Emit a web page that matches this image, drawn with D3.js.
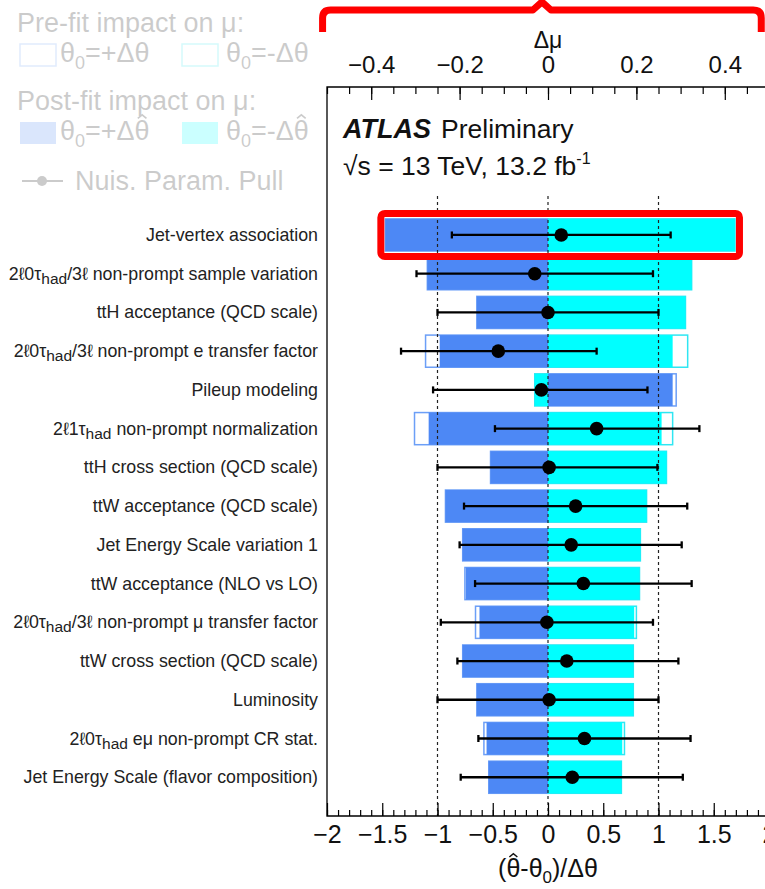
<!DOCTYPE html>
<html>
<head>
<meta charset="utf-8">
<script src="https://cdn.jsdelivr.net/npm/d3@7"></script>
<style>
  body { margin: 0; background: #fff; }
  svg text { font-family: "Liberation Sans", Arial, Helvetica, sans-serif; }
</style>
</head>
<body>
<script>
// nuisance parameters, ranked top to bottom ("_{...}" = subscript)
var labels = [
  "Jet-vertex association",
  "2ℓ0τ_{had}/3ℓ non-prompt sample variation",
  "ttH acceptance (QCD scale)",
  "2ℓ0τ_{had}/3ℓ non-prompt e transfer factor",
  "Pileup modeling",
  "2ℓ1τ_{had} non-prompt normalization",
  "ttH cross section (QCD scale)",
  "ttW acceptance (QCD scale)",
  "Jet Energy Scale variation 1",
  "ttW acceptance (NLO vs LO)",
  "2ℓ0τ_{had}/3ℓ non-prompt μ transfer factor",
  "ttW cross section (QCD scale)",
  "Luminosity",
  "2ℓ0τ_{had} eμ non-prompt CR stat.",
  "Jet Energy Scale (flavor composition)"
];

// impact on mu (delta mu), theta0 = +dtheta / -dtheta
var preUp    = [-0.368, -0.273, -0.161, -0.277, 0.290, -0.302, -0.130, -0.232, -0.193, -0.188, -0.164, -0.193, -0.161, -0.145, -0.134];
var preDown  = [ 0.423,  0.325,  0.311,  0.316, -0.030, 0.282,  0.268,  0.223,  0.209,  0.207,  0.200,  0.193,  0.193,  0.173,  0.166];
var postUp   = [-0.368, -0.273, -0.161, -0.245, 0.282, -0.270, -0.130, -0.232, -0.193, -0.186, -0.155, -0.193, -0.161, -0.139, -0.134];
var postDown = [ 0.423,  0.325,  0.311,  0.282, -0.030, 0.257,  0.268,  0.223,  0.209,  0.207,  0.195,  0.193,  0.193,  0.168,  0.166];

// pulls (theta_hat - theta0)/dtheta with error bar ends
var pull     = [ 0.12, -0.12,  0.00, -0.45, -0.06,  0.44,  0.01,  0.25,  0.21,  0.32, -0.01,  0.17,  0.01,  0.33,  0.22];
var pullLow  = [-0.87, -1.19, -1.00, -1.33, -1.04, -0.48, -1.00, -0.76, -0.80, -0.66, -0.97, -0.82, -1.00, -0.63, -0.79];
var pullHigh = [ 1.11,  0.95,  1.00,  0.44,  0.90,  1.37,  0.99,  1.26,  1.21,  1.30,  0.95,  1.18,  1.00,  1.29,  1.22];

var pullTicks = [-2, -1.5, -1, -0.5, 0, 0.5, 1, 1.5, 2];
var muTicks = [-0.4, -0.2, 0, 0.2, 0.4];

var blue = "#4d88f5", cyan = "#00ffff";
var blueLine = "#6c9ff7", cyanLine = "#2fe6f2";

var W = 765, H = 889;
var svg = d3.select("body").append("svg")
  .attr("width", W)
  .attr("height", H);

var frame = { left: 327, right: 769, top: 87, bottom: 816 };

var x = d3.scaleLinear().domain([-2, 2]).range([frame.left, frame.right]);
var xmu = d3.scaleLinear().domain([-0.5, 0.5]).range([frame.left, frame.right]);
var y = d3.scaleBand()
  .domain(d3.range(labels.length))
  .range([215.6, 796.6])
  .paddingInner(0.17)
  .paddingOuter(0.085);

// little circumflex over one character of a text element
function addHat(g, textSel, idx, size, color) {
  var el = textSel.node();
  var s = el.getStartPositionOfChar(idx), e = el.getEndPositionOfChar(idx);
  var cx = (s.x + e.x) / 2, top = s.y - size * 0.80, w = size * 0.16, h = size * 0.13;
  g.append("path")
    .attr("d", "M" + (cx - w) + "," + top + "L" + cx + "," + (top - h) + "L" + (cx + w) + "," + top)
    .attr("fill", "none")
    .attr("stroke", color)
    .attr("stroke-width", size * 0.06);
}

// ---------- faded legend ----------
var leg = svg.append("g").attr("opacity", 0.2).attr("fill", "#000");
var fs = 27;

leg.append("text").attr("x", 17).attr("y", 32).attr("font-size", fs).text("Pre-fit impact on μ:");
leg.append("text").attr("x", 17).attr("y", 110).attr("font-size", fs).text("Post-fit impact on μ:");

function thetaLabel(g, tx, ty, sign, hat) {
  var t = g.append("text").attr("x", tx).attr("y", ty).attr("font-size", fs);
  t.append("tspan").text("θ");
  t.append("tspan").attr("font-size", 18).attr("dy", 7).text("0");
  t.append("tspan").attr("dy", -7).text("=" + sign + "Δθ");
  if (hat) addHat(g, t, 5, fs, "#000");
}

leg.append("rect").attr("x", 20).attr("y", 44).attr("width", 36).attr("height", 22)
  .attr("fill", "none").attr("stroke", blueLine).attr("stroke-width", 1.5);
leg.append("rect").attr("x", 182).attr("y", 44).attr("width", 36).attr("height", 22)
  .attr("fill", "none").attr("stroke", cyanLine).attr("stroke-width", 1.5);
thetaLabel(leg, 60, 62, "+", false);
thetaLabel(leg, 226, 62, "-", false);

leg.append("rect").attr("x", 20).attr("y", 122).attr("width", 36).attr("height", 22).attr("fill", blue);
leg.append("rect").attr("x", 182).attr("y", 122).attr("width", 36).attr("height", 22).attr("fill", cyan);
thetaLabel(leg, 60, 140, "+", true);
thetaLabel(leg, 226, 140, "-", true);

leg.append("line").attr("x1", 22).attr("x2", 63).attr("y1", 181).attr("y2", 181)
  .attr("stroke", "#000").attr("stroke-width", 2);
leg.append("circle").attr("cx", 42).attr("cy", 181).attr("r", 5).attr("fill", "#000");
leg.append("text").attr("x", 75).attr("y", 190).attr("font-size", fs).text("Nuis. Param. Pull");

// ---------- rows ----------
var rows = svg.append("g");
var bh = y.bandwidth();

labels.forEach(function (lab, i) {
  var yt = y(i);
  // pre-fit outlines
  [[preUp[i], blueLine], [preDown[i], cyanLine]].forEach(function (p) {
    rows.append("rect")
      .attr("x", Math.min(xmu(0), xmu(p[0])))
      .attr("y", yt)
      .attr("width", Math.abs(xmu(p[0]) - xmu(0)))
      .attr("height", bh)
      .attr("fill", "#fff")
      .attr("stroke", p[1])
      .attr("stroke-width", 1.5);
  });
  // post-fit filled bars
  [[postUp[i], blue], [postDown[i], cyan]].forEach(function (p) {
    rows.append("rect")
      .attr("x", Math.min(xmu(0), xmu(p[0])))
      .attr("y", yt)
      .attr("width", Math.abs(xmu(p[0]) - xmu(0)))
      .attr("height", bh)
      .attr("fill", p[1]);
  });
});

// dashed reference lines
svg.append("g").selectAll("line")
  .data([-1, 0, 1])
  .enter().append("line")
  .attr("x1", function (d) { return x(d); })
  .attr("x2", function (d) { return x(d); })
  .attr("y1", 196)
  .attr("y2", frame.bottom)
  .attr("stroke", "#222")
  .attr("stroke-width", 1.2)
  .attr("stroke-dasharray", "3,3");

// pulls
var pulls = svg.append("g");
labels.forEach(function (lab, i) {
  var yc = y(i) + bh / 2;
  pulls.append("line")
    .attr("x1", x(pullLow[i])).attr("x2", x(pullHigh[i]))
    .attr("y1", yc).attr("y2", yc)
    .attr("stroke", "#000").attr("stroke-width", 2.3);
  [pullLow[i], pullHigh[i]].forEach(function (v) {
    pulls.append("line")
      .attr("x1", x(v)).attr("x2", x(v))
      .attr("y1", yc - 3.5).attr("y2", yc + 3.5)
      .attr("stroke", "#000").attr("stroke-width", 2.3);
  });
  pulls.append("circle")
    .attr("cx", x(pull[i])).attr("cy", yc).attr("r", 6.8).attr("fill", "#000");
});

// labels with subscripts
labels.forEach(function (lab, i) {
  var t = svg.append("text")
    .attr("x", 318)
    .attr("y", y(i) + bh / 2 + 6)
    .attr("text-anchor", "end")
    .attr("font-size", 17.8)
    .attr("fill", "#222");
  var parts = lab.split(/(_\{[^}]*\})/).filter(function (p) { return p; });
  var shift = 0;
  parts.forEach(function (p) {
    if (p.charAt(0) === "_") {
      t.append("tspan").attr("font-size", 15.5).attr("dy", 4).text(p.slice(2, -1));
      shift = -4;
    } else {
      var ts = t.append("tspan").text(p);
      if (shift) { ts.attr("dy", shift); shift = 0; }
    }
  });
});

// ---------- frame and axes ----------
svg.append("path")
  .attr("d", "M" + frame.right + "," + frame.top + "H" + frame.left + "V" + frame.bottom + "H" + frame.right)
  .attr("fill", "none")
  .attr("stroke", "#000")
  .attr("stroke-width", 1.3);

// bottom axis
var minorPull = d3.range(-2, 2.001, 0.1).map(function (v) { return +v.toFixed(1); });
svg.append("g")
  .attr("transform", "translate(0," + frame.bottom + ")")
  .call(d3.axisBottom(x).tickValues(minorPull).tickSize(-6).tickSizeOuter(0).tickFormat(""))
  .call(function (g) { g.select(".domain").remove(); g.selectAll("line").attr("stroke-width", 1.2); });
svg.append("g")
  .attr("transform", "translate(0," + frame.bottom + ")")
  .call(d3.axisBottom(x).tickValues(pullTicks).tickSize(-13).tickSizeOuter(0).tickPadding(9)
    .tickFormat(d3.format("")))
  .call(function (g) {
    g.select(".domain").remove();
    g.selectAll("line").attr("stroke-width", 1.2);
    g.selectAll("text").attr("font-size", 25).attr("fill", "#111")
      .attr("font-family", "'Liberation Sans', Arial, sans-serif");
  });

// top axis
var minorMu = d3.range(-0.5, 0.5001, 0.05).map(function (v) { return +v.toFixed(2); });
svg.append("g")
  .attr("transform", "translate(0," + frame.top + ")")
  .call(d3.axisTop(xmu).tickValues(minorMu).tickSize(-7).tickSizeOuter(0).tickFormat(""))
  .call(function (g) { g.select(".domain").remove(); g.selectAll("line").attr("stroke-width", 1.2); });
svg.append("g")
  .attr("transform", "translate(0," + frame.top + ")")
  .call(d3.axisTop(xmu).tickValues(muTicks).tickSize(-13).tickSizeOuter(0).tickPadding(14)
    .tickFormat(d3.format("")))
  .call(function (g) {
    g.select(".domain").remove();
    g.selectAll("line").attr("stroke-width", 1.2);
    g.selectAll("text").attr("font-size", 24).attr("fill", "#111")
      .attr("font-family", "'Liberation Sans', Arial, sans-serif");
  });

svg.append("text")
  .attr("x", xmu(0)).attr("y", 48)
  .attr("text-anchor", "middle").attr("font-size", 23).attr("fill", "#111")
  .text("Δμ");

var xt = svg.append("text")
  .attr("x", x(0)).attr("y", 877)
  .attr("text-anchor", "middle").attr("font-size", 25).attr("fill", "#111");
xt.append("tspan").text("(θ-θ");
xt.append("tspan").attr("font-size", 17).attr("dy", 6).text("0");
xt.append("tspan").attr("dy", -6).text(")/Δθ");
addHat(svg, xt, 1, 25, "#111");

// ATLAS label
var at = svg.append("text").attr("x", 343).attr("y", 138).attr("fill", "#111");
at.append("tspan").attr("font-weight", "bold").attr("font-style", "italic").attr("font-size", 27).text("ATLAS");
at.append("tspan").attr("dx", 10).attr("font-size", 26.5).text("Preliminary");

var en = svg.append("text").attr("x", 343).attr("y", 175).attr("font-size", 26.5).attr("fill", "#111");
en.append("tspan").text("√s = 13 TeV, 13.2 fb");
en.append("tspan").attr("font-size", 16).attr("dy", -11).text("-1");

// ---------- red annotation ----------
var bx0 = x(-2.04), bx1 = x(1.93), by = 10, bleg = 32, mid = (bx0 + bx1) / 2;
svg.append("path")
  .attr("d", "M" + bx0 + "," + bleg + "V" + (by + 8) + "Q" + bx0 + "," + by + " " + (bx0 + 8) + "," + by +
    "H" + (mid - 9) + "L" + mid + "," + (by - 8) + "L" + (mid + 9) + "," + by +
    "H" + (bx1 - 8) + "Q" + bx1 + "," + by + " " + bx1 + "," + (by + 8) + "V" + bleg)
  .attr("fill", "none")
  .attr("stroke", "#ff0000")
  .attr("stroke-width", 7)
  .attr("stroke-linejoin", "round");

var r0 = 0;
svg.append("rect")
  .attr("x", xmu(Math.min(preUp[r0], postUp[r0])) - 4.5)
  .attr("y", y(r0) - 5.5)
  .attr("width", xmu(Math.max(preDown[r0], postDown[r0])) - xmu(Math.min(preUp[r0], postUp[r0])) + 9)
  .attr("height", bh + 11)
  .attr("rx", 4)
  .attr("fill", "none")
  .attr("stroke", "#ff0000")
  .attr("stroke-width", 7);
</script>
</body>
</html>
